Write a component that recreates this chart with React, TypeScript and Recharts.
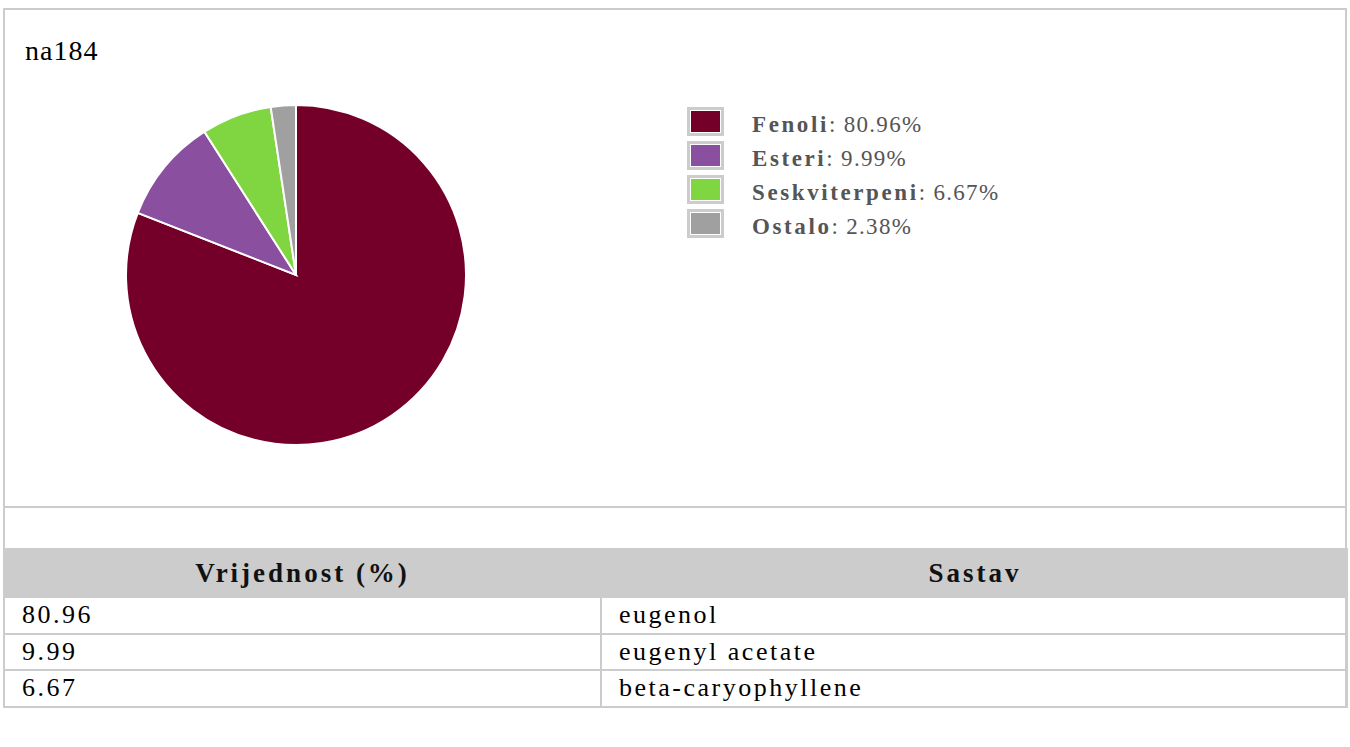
import React from 'react';
import { PieChart, Pie, Cell } from 'recharts';

const chartTitle = 'na184';
const categories = ['Fenoli', 'Esteri', 'Seskviterpeni', 'Ostalo'];
const shares = [80.96, 9.99, 6.67, 2.38];
const sliceColors = ['#740029', '#8a4f9e', '#80d641', '#a0a0a0'];

const tableHeaders = ['Vrijednost (%)', 'Sastav'];
const tableValues = ['80.96', '9.99', '6.67'];
const tableNames = ['eugenol', 'eugenyl acetate', 'beta-caryophyllene'];

const pieData = categories.map((name, i) => ({ name, value: shares[i] }));

const GRAY = '#cccccc';
const FONT = "'Liberation Serif', 'Times New Roman', serif";

const Swatch: React.FC<{ color: string }> = ({ color }) => (
  <div
    style={{
      width: 37,
      height: 29,
      boxSizing: 'border-box',
      border: `3px solid ${GRAY}`,
      padding: 1,
      background: '#fff',
      flexShrink: 0,
    }}
  >
    <div style={{ width: '100%', height: '100%', background: color }} />
  </div>
);

export default function App() {
  return (
    <div style={{ position: 'absolute', left: 0, top: 0, width: 1350, height: 747, fontFamily: FONT, background: '#fff' }}>
      {/* chart box */}
      <div
        style={{
          position: 'absolute',
          left: 3,
          top: 8,
          width: 1344,
          height: 500,
          boxSizing: 'border-box',
          border: `2px solid ${GRAY}`,
        }}
      >
        <div style={{ position: 'absolute', left: 20, top: 27, fontSize: 28, color: '#000', lineHeight: '28px', letterSpacing: 1 }}>
          {chartTitle}
        </div>

        <div style={{ position: 'absolute', left: 86, top: 60 }}>
          <PieChart width={400} height={400}>
            <Pie
              data={pieData}
              dataKey="value"
              nameKey="name"
              cx={200}
              cy={200}
              outerRadius={170}
              startAngle={90}
              endAngle={-270}
              stroke="#ffffff"
              strokeWidth={2}
              isAnimationActive={false}
            >
              {pieData.map((entry, index) => (
                <Cell key={`cell-${index}`} fill={sliceColors[index]} />
              ))}
            </Pie>
          </PieChart>
        </div>

        {/* legend */}
        <div style={{ position: 'absolute', left: 682, top: 97 }}>
          {pieData.map((d, i) => (
            <div key={d.name} style={{ display: 'flex', alignItems: 'flex-start', height: 34 }}>
              <Swatch color={sliceColors[i]} />
              <div style={{ marginLeft: 28, fontSize: 23, lineHeight: '29px', paddingTop: 3, color: '#555', letterSpacing: 1.3, whiteSpace: 'nowrap' }}>
                <b style={{ letterSpacing: 2.6 }}>{d.name}</b>: {d.value.toFixed(2)}%
              </div>
            </div>
          ))}
        </div>
      </div>

      {/* empty spacer row */}
      <div
        style={{
          position: 'absolute',
          left: 3,
          top: 508,
          width: 1344,
          height: 40,
          boxSizing: 'border-box',
          borderLeft: `2px solid ${GRAY}`,
          borderRight: `2px solid ${GRAY}`,
        }}
      />

      {/* table */}
      <div style={{ position: 'absolute', left: 3, top: 548, width: 1345 }}>
        <div style={{ display: 'flex', height: 50, background: GRAY, fontWeight: 'bold', fontSize: 27, color: '#111', letterSpacing: 3 }}>
          <div style={{ width: 599, display: 'flex', alignItems: 'center', justifyContent: 'center' }}>
            {tableHeaders[0]}
          </div>
          <div style={{ flex: 1, display: 'flex', alignItems: 'center', justifyContent: 'center' }}>
            {tableHeaders[1]}
          </div>
        </div>
        {tableValues.map((v, i) => (
          <div
            key={v}
            style={{
              display: 'flex',
              height: 36.5,
              boxSizing: 'border-box',
              borderLeft: `2px solid ${GRAY}`,
              borderRight: `3px solid ${GRAY}`,
              borderBottom: `2px solid ${GRAY}`,
              fontSize: 26,
              letterSpacing: 2.5,
              color: '#000',
            }}
          >
            <div style={{ width: 597, boxSizing: 'border-box', paddingLeft: 17, display: 'flex', alignItems: 'center', borderRight: `2px solid ${GRAY}` }}>
              {v}
            </div>
            <div style={{ flex: 1, paddingLeft: 17, display: 'flex', alignItems: 'center' }}>{tableNames[i]}</div>
          </div>
        ))}
      </div>
    </div>
  );
}
